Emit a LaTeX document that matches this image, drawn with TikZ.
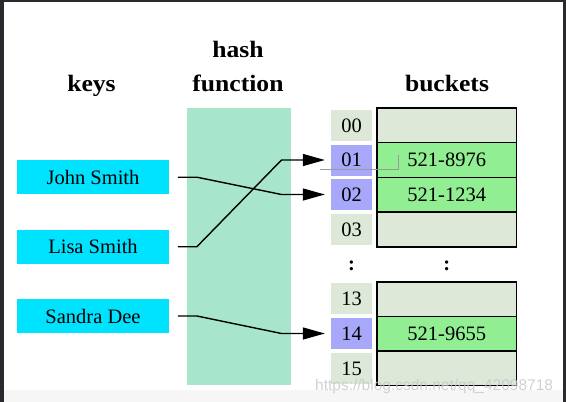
\documentclass[tikz,border=0pt]{standalone}
\usepackage{fontspec}
\setmainfont{Liberation Serif}
\newfontfamily\wmfont{Liberation Sans}
\usetikzlibrary{arrows.meta}
\definecolor{keycyan}{HTML}{00E3FF}
\definecolor{hashgreen}{HTML}{A8E6CC}
\definecolor{idxgray}{HTML}{DDE8D9}
\definecolor{idxblue}{HTML}{A8A8FA}
\definecolor{bkempty}{HTML}{DDE8D9}
\definecolor{bkfull}{HTML}{92EE92}
\definecolor{framedark}{HTML}{2A2A2E}
\tikzset{
  title/.style={anchor=base,inner sep=0pt,font=\fontsize{23.5}{26}\selectfont\bfseries},
  keybox/.style={fill=keycyan,minimum width=152.6pt,minimum height=34.3pt,inner sep=0pt,font=\fontsize{20.5}{22}\selectfont},
  idxbox/.style={fill=idxgray,minimum width=41pt,minimum height=31pt,inner sep=0pt,font=\fontsize{20.5}{22}\selectfont},
  idxsel/.style={idxbox,fill=idxblue},
  bkrow/.style={draw=black,line width=1.5pt,fill=bkempty,minimum width=139.5pt,minimum height=34.75pt,inner sep=0pt,font=\fontsize{20.5}{22}\selectfont},
  bkfullrow/.style={bkrow,fill=bkfull},
  conn/.style={line width=1.4pt,-{Triangle[length=22pt,width=12pt]}},
}
\begin{document}
\begin{tikzpicture}[x=1pt,y=-1pt]
\useasboundingbox (0,0) rectangle (566,402);
\fill[white] (0,0) rectangle (566,402);
\fill[gray!7] (0,390) rectangle (566,402);
\fill[framedark] (0,0) rectangle (4,402);
\fill[framedark] (0,0) rectangle (566,2);
\fill[framedark] (563,0) rectangle (566,402);

% titles
\node[title] (tkeys) at (91.5,91) {\scalebox{1.09}[1]{keys}};
\node[title] (thash) at (238,57) {\scalebox{1.09}[1]{hash}};
\node[title] (tfunc) at (238,91) {\scalebox{1.09}[1]{function}};
\node[title] (tbuck) at (447,91) {\scalebox{1.09}[1]{buckets}};

% hash function band
\node[fill=hashgreen,minimum width=104pt,minimum height=277pt,inner sep=0pt] (hash) at (239,246.5) {};

% keys
\node[keybox] (john) at (93,177.2) {John Smith};
\node[keybox] (lisa) at (93,246.7) {Lisa Smith};
\node[keybox] (sandra) at (93,316) {Sandra Dee};

% index boxes
\node[idxbox] (i00) at (351.5,125.5) {00};
\node[idxsel] (i01) at (351.5,160) {01};
\node[idxsel] (i02) at (351.5,194.5) {02};
\node[idxbox] (i03) at (351.5,229.5) {03};
\node[idxbox] (i13) at (351.5,298.5) {13};
\node[idxsel] (i14) at (351.5,333.5) {14};
\node[idxbox] (i15) at (351.5,368.5) {15};

% buckets
\node[bkrow] (b00) at (446.75,125.4) {};
\node[bkfullrow] (b01) at (446.75,160.1) {521-8976};
\node[bkfullrow] (b02) at (446.75,194.9) {521-1234};
\node[bkrow] (b03) at (446.75,229.6) {};
\node[bkrow] (b13) at (446.75,299.25) {};
\node[bkfullrow] (b14) at (446.75,333.75) {521-9655};
\node[bkrow] (b15) at (446.75,368.25) {};

% ellipsis dots
\node[anchor=base,inner sep=0pt,font=\fontsize{20.5}{22}\selectfont\bfseries] (dotsi) at (351.5,270.5) {:};
\node[anchor=base,inner sep=0pt,font=\fontsize{20.5}{22}\selectfont\bfseries] (dotsb) at (446.75,270.5) {:};

% stray grey line
\draw[gray!80,line width=0.9pt] (320,169.3) -- (398.7,169.3) -- (398.7,155);

% connectors
\draw[conn] ([xshift=8.4pt]john.east) -- ++(19,0) -- ([xshift=-49.3pt]i02.west) -- ([xshift=-6pt]i02.west);
\draw[conn] ([xshift=8.4pt]lisa.east) -- ++(19,0) -- ([xshift=-49.3pt]i01.west) -- ([xshift=-6pt]i01.west);
\draw[conn] ([xshift=8.4pt]sandra.east) -- ++(19,0) -- ([xshift=-49.3pt]i14.west) -- ([xshift=-6pt]i14.west);

% watermark
\node[anchor=base west,inner sep=0pt,text=gray!45,opacity=0.8,font=\wmfont\fontsize{15.5}{17}\selectfont] (wm) at (315,390) {https://blog.csdn.net/qq\_42098718};
\end{tikzpicture}
\end{document}
